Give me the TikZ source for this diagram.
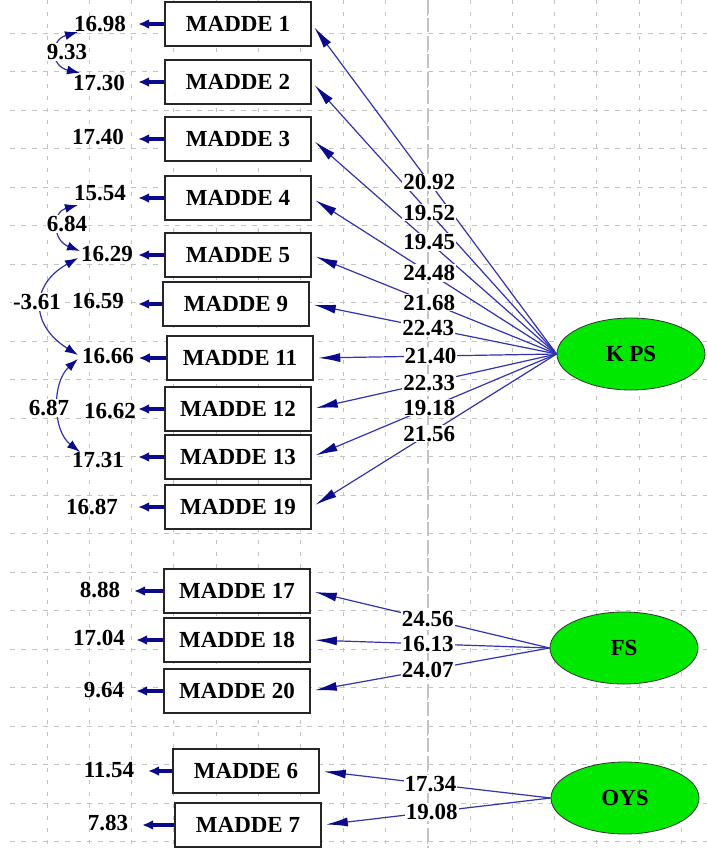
\documentclass[tikz,border=0pt]{standalone}
\usepackage{fontspec}
\setmainfont{Liberation Serif}
\usetikzlibrary{arrows.meta,shapes.geometric}
\definecolor{arr}{RGB}{50,50,180}
\definecolor{headc}{RGB}{10,10,140}
\definecolor{gridc}{RGB}{195,195,195}
\definecolor{ellg}{RGB}{0,232,0}
\begin{document}
\begin{tikzpicture}[x=1bp,y=-1bp,
  font=\bfseries\fontsize{23bp}{25bp}\selectfont,
  box/.style={draw=black!85, line width=1.7bp, fill=white, minimum width=146bp, minimum height=44bp, inner sep=0pt},
  lat/.style={ellipse, draw=black!80, line width=0.8bp, fill=ellg, minimum width=148bp, minimum height=72bp, inner sep=0pt},
  load/.style={draw=arr, line width=1.2bp, shorten >=4bp, -{Latex[length=22bp,width=9bp,color=headc]}},
  errarr/.style={draw=headc, line width=3.5bp, -{Latex[length=11bp,width=10bp]}},
  corr/.style={draw=arr, line width=1.2bp, {Latex[length=13bp,width=9bp,color=headc]}-{Latex[length=13bp,width=9bp,color=headc]}},
  lab/.style={fill=white, inner sep=1bp},
  val/.style={inner sep=0pt},
  gridv/.style={draw=gridc, line width=1bp, dash pattern=on 4bp off 8bp},
  gridh/.style={draw=gridc, line width=1bp, dash pattern=on 5bp off 6bp}]
\useasboundingbox[fill=white] (0,0) rectangle (707,848);
% grid
\foreach \k in {0,...,15} \draw[gridv] ({47+42.3*\k},0) -- ({47+42.3*\k},848);
\foreach \k in {0,...,21} \draw[gridh] (10,{33+38.5*\k}) -- (707,{33+38.5*\k});
\draw[draw=gridc, line width=1.2bp, dash pattern=on 14bp off 4bp] (428,0) -- (428,848);
% boxes
\node[box] (m1) at (238,24) {MADDE 1};
\node[box] (m2) at (238,82) {MADDE 2};
\node[box] (m3) at (238,139) {MADDE 3};
\node[box] (m4) at (238,198) {MADDE 4};
\node[box] (m5) at (238,255) {MADDE 5};
\node[box] (m9) at (236,304) {MADDE 9};
\node[box, line width=2.5bp] (m11) at (240,358) {MADDE 11};
\node[box] (m12) at (238,409) {MADDE 12};
\node[box] (m13) at (238,457) {MADDE 13};
\node[box] (m19) at (238,507) {MADDE 19};
\node[box] (m17) at (237,591) {MADDE 17};
\node[box] (m18) at (237,640) {MADDE 18};
\node[box] (m20) at (237,691) {MADDE 20};
\node[box] (m6) at (246,771) {MADDE 6};
\node[box] (m7) at (248,825) {MADDE 7};
% latent variables
\node[lat] (kps) at (631,354) {K PS};
\node[lat] (fs) at (624,648) {FS};
\node[lat] (oys) at (625,798) {OYS};
% error values
\node[val] (e1) at (100,24) {16.98};
\node[val] (e2) at (99,83) {17.30};
\node[val] (e3) at (98,137) {17.40};
\node[val] (e4) at (100,193) {15.54};
\node[val] (e5) at (107,254) {16.29};
\node[val] (e9) at (98,301) {16.59};
\node[val] (e11) at (108,356) {16.66};
\node[val] (e12) at (110,411) {16.62};
\node[val] (e13) at (98,460) {17.31};
\node[val] (e19) at (92,507) {16.87};
\node[val] (e17) at (100,590) {8.88};
\node[val] (e18) at (99,638) {17.04};
\node[val] (e20) at (104,690) {9.64};
\node[val] (e6) at (109,770) {11.54};
\node[val] (e7) at (108,823) {7.83};
% error arrows
\foreach \m/\l in {m1/26,m2/26,m3/26,m4/26,m5/26,m9/24,m11/27,m12/26,m13/26,m19/26,m17/29,m18/27,m20/27,m6/24,m7/32}
  \draw[errarr] (\m.west) -- ++(-\l,0);
% loadings
\foreach \m in {m1,m2,m3,m4,m5,m9,m11,m12,m13,m19}
  \draw[load] (kps.west) -- (\m.east);
\foreach \m in {m17,m18,m20}
  \draw[load] (fs.west) -- (\m.east);
\foreach \m in {m6,m7}
  \draw[load] (oys.west) -- (\m.east);
\foreach \m/\v in {m1/20.92,m2/19.52,m3/19.45,m4/24.48,m5/21.68,m9/22.43,m11/21.40,m12/22.33,m13/19.18,m19/21.56}
  \path (kps.west) -- (\m.east) node[lab,pos=.52] (l\m) {\v};
\foreach \m/\v in {m17/24.56,m18/16.13,m20/24.07}
  \path (fs.west) -- (\m.east) node[lab,pos=.51] (l\m) {\v};
\foreach \m/\v in {m6/17.34,m7/19.08}
  \path (oys.west) -- (\m.east) node[lab,pos=.52] (l\m) {\v};
% error covariances
\coordinate (c1a) at (78,32); \coordinate (c1b) at (80,73);
\draw[corr] (c1a) .. controls (50,40) and (50,66) .. (c1b);
\node[lab] (k1) at (67,52) {9.33};
\coordinate (c2a) at (78,205); \coordinate (c2b) at (80,251);
\draw[corr] (c2a) .. controls (52,212) and (52,240) .. (c2b);
\node[lab] (k2) at (67,224) {6.84};
\coordinate (c3a) at (78,258); \coordinate (c3b) at (78,355);
\draw[corr] (c3a) .. controls (30,285) and (30,325) .. (c3b);
\node[lab] (k3) at (37,302) {-3.61};
\coordinate (c4a) at (78,359); \coordinate (c4b) at (80,452);
\draw[corr] (c4a) .. controls (52,382) and (52,430) .. (c4b);
\node[lab] (k4) at (49,408) {6.87};
\end{tikzpicture}
\end{document}
